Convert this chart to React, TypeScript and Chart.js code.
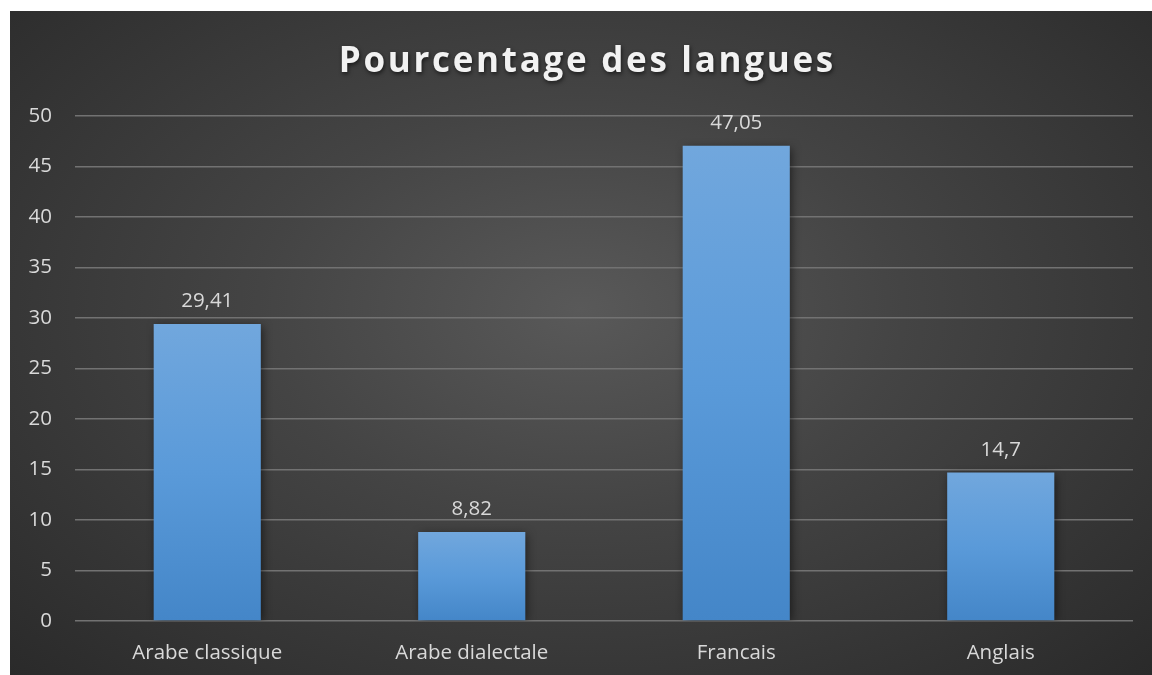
import React, { useEffect, useRef } from "react";
import { Chart, registerables } from "chart.js";

Chart.register(...registerables);

const TITLE = "Pourcentage des langues";
const CATEGORIES = ["Arabe classique", "Arabe dialectale", "Francais", "Anglais"];
const VALUES = [29.41, 8.82, 47.05, 14.7];
const VALUE_LABELS = ["29,41", "8,82", "47,05", "14,7"];
const Y_MIN = 0;
const Y_MAX = 50;
const Y_STEP = 5;

const FONT = "'Open Sans', 'Noto Sans', sans-serif";
const TEXT_COLOR = "#d9d9d9";

const titlePlugin = {
  id: "customTitle",
  afterDraw(chart: any) {
    const ctx = chart.ctx;
    ctx.save();
    ctx.font = `bold 35px ${FONT}`;
    (ctx as any).letterSpacing = "2.7px";
    ctx.textAlign = "center";
    ctx.textBaseline = "alphabetic";
    ctx.shadowColor = "rgba(0,0,0,0.6)";
    ctx.shadowBlur = 4;
    ctx.shadowOffsetX = 1;
    ctx.shadowOffsetY = 2;
    ctx.fillStyle = "#f2f2f2";
    ctx.fillText(TITLE, 586 - 10 + 1.3, 72 - 11);
    ctx.restore();
  },
};

const shadowPlugin = {
  id: "barShadow",
  beforeDatasetsDraw(chart: any) {
    const ctx = chart.ctx;
    ctx.save();
    ctx.shadowColor = "rgba(0,0,0,0.55)";
    ctx.shadowBlur = 9;
    ctx.shadowOffsetX = 2;
    ctx.shadowOffsetY = 2;
  },
  afterDatasetsDraw(chart: any) {
    chart.ctx.restore();
  },
};

const valueLabelPlugin = {
  id: "valueLabels",
  afterDraw(chart: any) {
    const ctx = chart.ctx;
    const meta = chart.getDatasetMeta(0);
    ctx.save();
    ctx.font = `20.5px ${FONT}`;
    ctx.fillStyle = TEXT_COLOR;
    ctx.textAlign = "center";
    ctx.textBaseline = "alphabetic";
    meta.data.forEach((bar: any, i: number) => {
      ctx.fillText(VALUE_LABELS[i], bar.x, bar.y - 17);
    });
    ctx.restore();
  },
};

export default function App() {
  const canvasRef = useRef<HTMLCanvasElement | null>(null);

  useEffect(() => {
    if (!canvasRef.current) return;
    const chart = new Chart(canvasRef.current, {
      type: "bar",
      data: {
        labels: CATEGORIES,
        datasets: [
          {
            data: VALUES,
            categoryPercentage: 1,
            barPercentage: 0.405,
            backgroundColor: (c: any) => {
              const ch = c.chart;
              const ys = ch.scales && ch.scales.y;
              if (!ys || c.dataIndex === undefined) return "#5b9bd5";
              const top = ys.getPixelForValue(VALUES[c.dataIndex]);
              const bottom = ys.getPixelForValue(0);
              if (!isFinite(top) || !isFinite(bottom) || top === bottom) return "#5b9bd5";
              const g = ch.ctx.createLinearGradient(0, top, 0, bottom);
              g.addColorStop(0, "#71a7dd");
              g.addColorStop(0.5, "#5a9ad9");
              g.addColorStop(1, "#4486c8");
              return g;
            },
            borderWidth: 0,
          },
        ],
      },
      options: {
        animation: false,
        responsive: false,
        maintainAspectRatio: false,
        layout: { padding: { top: 105, right: 19, left: 0, bottom: 0 } },
        plugins: {
          legend: { display: false },
          title: { display: false },
          tooltip: { enabled: false },
        },
        scales: {
          x: {
            grid: { display: false, drawTicks: false },
            border: { display: false },
            ticks: {
              color: TEXT_COLOR,
              font: { family: FONT, size: 20.5 },
              padding: 20,
              maxRotation: 0,
              autoSkip: false,
            },
            afterFit: (s: any) => {
              s.height = 54;
            },
          },
          y: {
            min: Y_MIN,
            max: Y_MAX,
            grid: { color: "#727272", lineWidth: 1.5, drawTicks: false },
            border: { display: false },
            ticks: {
              stepSize: Y_STEP,
              color: TEXT_COLOR,
              font: { family: FONT, size: 20.5 },
              padding: 23,
            },
            afterFit: (s: any) => {
              s.width = 65;
            },
          },
        },
      },
      plugins: [shadowPlugin, valueLabelPlugin, titlePlugin],
    });
    return () => chart.destroy();
  }, []);

  return (
    <div
      style={{
        position: "fixed",
        left: 0,
        top: 0,
        width: 1152,
        height: 675,
        background: "#ffffff",
      }}
    >
      <div
        style={{
          position: "absolute",
          left: 10,
          top: 11,
          width: 1142,
          height: 664,
          background:
            "radial-gradient(ellipse farthest-corner at 50% 45%, #595959 0%, #444444 40%, #2a2a2a 100%)",
        }}
      >
        <canvas ref={canvasRef} width={1142} height={664} style={{ display: "block" }} />
      </div>
    </div>
  );
}
